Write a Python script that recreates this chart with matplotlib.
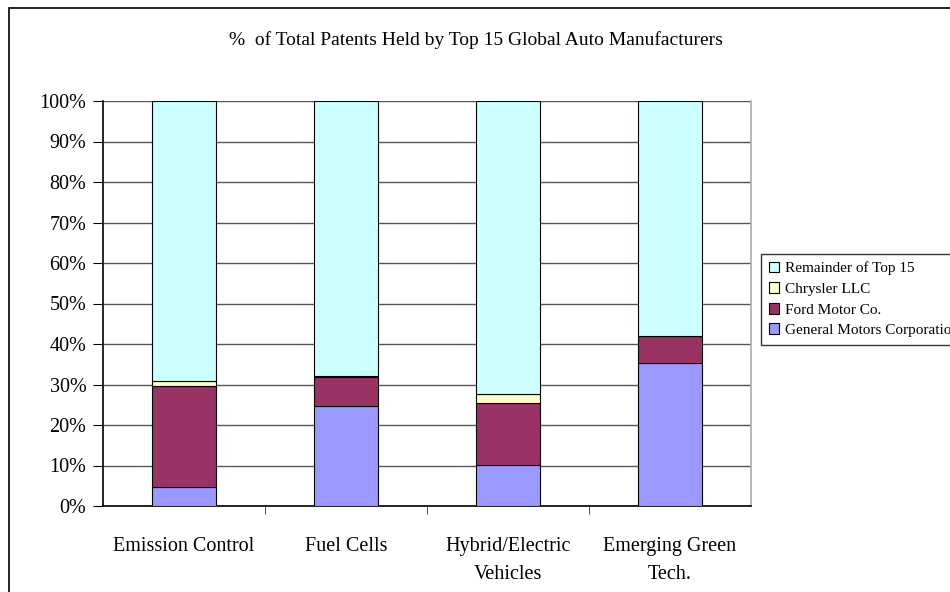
import matplotlib.pyplot as plt
import matplotlib.patches as mpatches
import numpy as np

categories = ["Emission Control", "Fuel Cells", "Hybrid/Electric\nVehicles", "Emerging Green\nTech."]
gm = [4.6, 24.8, 10.2, 35.2]
ford = [25.0, 7.1, 15.2, 6.8]
chrysler = [1.3, 0.3, 2.3, 0.0]
remainder = [69.1, 67.8, 72.3, 58.0]

series_names = ["General Motors Corporation", "Ford Motor Co.", "Chrysler LLC", "Remainder of Top 15"]
colors = ["#9999ff", "#993366", "#ffffcc", "#ccffff"]

plt.rcParams['font.family'] = ['Liberation Serif', 'DejaVu Serif']

fig = plt.figure(figsize=(9.5, 5.92), dpi=100)
ax = fig.add_axes([103/950, 1 - 506/592, 648/950, 405/592])

# outer chart frame (cut off on right and bottom like the original)
fig.patches.append(mpatches.Rectangle((9/950, -0.05), 1.1, 1 - 8/592 + 0.05,
                                      transform=fig.transFigure, fill=False,
                                      edgecolor='black', linewidth=1.2))

x = np.arange(len(categories))
bottom = np.zeros(len(categories))
handles = []
for vals, name, col in zip([gm, ford, chrysler, remainder], series_names, colors):
    b = ax.bar(x, vals, width=0.4, bottom=bottom, color=col, edgecolor='black',
               linewidth=0.8, label=name, zorder=3)
    handles.append(b)
    bottom += np.array(vals)

ax.set_xlim(-0.5, len(categories) - 0.5)
ax.set_ylim(0, 100)
ax.set_yticks(np.arange(0, 101, 10))
ax.set_yticklabels([f"{v}%" for v in range(0, 101, 10)], fontsize=14.5)
ax.yaxis.grid(True, color='#555555', linewidth=1.0, zorder=0)
ax.set_xticks(x)
ax.set_xticklabels(categories, fontsize=14.5, linespacing=1.65)
ax.tick_params(axis='x', length=0, pad=22)
ax.set_xticks(np.arange(0.5, len(categories) - 0.5, 1), minor=True)
ax.tick_params(axis='x', which='minor', length=6, color='#333333')
ax.tick_params(axis='y', length=7, direction='out', pad=5)

for s in ['left', 'bottom']:
    ax.spines[s].set_color('black')
    ax.spines[s].set_linewidth(1.2)
ax.spines['top'].set_visible(False)
ax.spines['right'].set_color('#aaaaaa')
ax.spines['right'].set_linewidth(1.2)

fig.text(476/950, 1 - 40/592, "%  of Total Patents Held by Top 15 Global Auto Manufacturers",
         ha='center', va='center', fontsize=14)

# legend runs off the right edge, as in the original
leg = fig.legend(handles[::-1], series_names[::-1], loc='upper left',
                 bbox_to_anchor=(761/950, 1 - 254/592), fontsize=11,
                 frameon=True, fancybox=False, edgecolor='black',
                 handlelength=0.7, handleheight=0.7, handletextpad=0.4,
                 borderpad=0.5, labelspacing=0.45, borderaxespad=0)
leg.get_frame().set_linewidth(1.0)

fig.savefig("out.png", dpi=100)
